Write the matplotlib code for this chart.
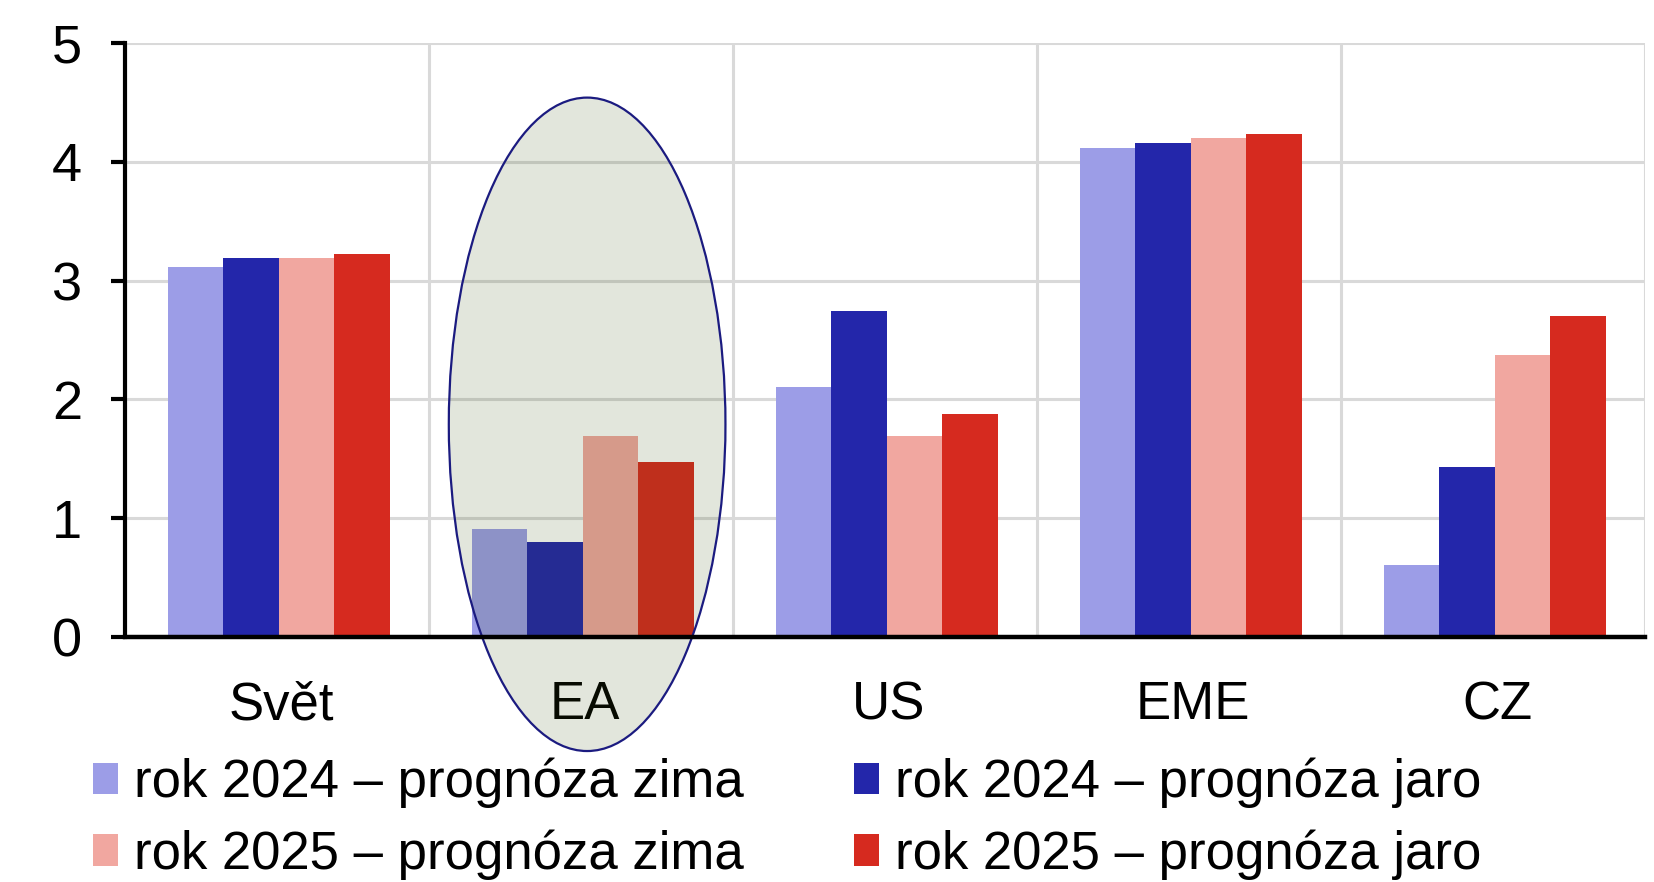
import numpy as np
import matplotlib
matplotlib.use("Agg")
import matplotlib.pyplot as plt
import matplotlib.transforms as mtransforms
from matplotlib.patches import Ellipse, Patch

plt.rcParams["font.family"] = ["Liberation Sans", "DejaVu Sans"]

kategorie = ["Svět", "EA", "US", "EME", "CZ"]
zima_2024 = [3.11, 0.91, 2.10, 4.12, 0.61]
jaro_2024 = [3.19, 0.80, 2.74, 4.16, 1.43]
zima_2025 = [3.19, 1.69, 1.69, 4.20, 2.37]
jaro_2025 = [3.22, 1.47, 1.88, 4.23, 2.70]

serie = [zima_2024, jaro_2024, zima_2025, jaro_2025]
popisky = ["rok 2024 – prognóza zima", "rok 2024 – prognóza jaro",
           "rok 2025 – prognóza zima", "rok 2025 – prognóza jaro"]
barvy = ["#9C9DE7", "#2326AA", "#F1A7A0", "#D62A1F"]

fig = plt.figure(figsize=(16.54, 8.82), dpi=100)
ax = fig.add_axes([0.0756, 0.2778, 0.9190, 0.6735])

x = np.arange(len(kategorie))
w = 0.1826
for i, (hodnoty, barva) in enumerate(zip(serie, barvy)):
    ax.bar(x + (i - 1.5) * w + 0.006, hodnoty, width=w, color=barva, zorder=2)

# zvyraznena eurozona
elipsa = Ellipse((1.02, 1.79), 0.91, 5.5,
                 facecolor=(52/255, 80/255, 10/255, 0.14),
                 edgecolor="#1B1B80", linewidth=1.6,
                 zorder=4, clip_on=False)
ax.add_patch(elipsa)

ax.set_xlim(-0.5, 4.5)
ax.set_ylim(0, 5)
ax.set_yticks(range(6))
ax.set_xticks(x)
ax.set_xticklabels(kategorie)
ax.set_xticks(np.arange(-0.5, 5, 1), minor=True)

ax.grid(axis="y", color="#D9D9D9", linewidth=2.2, zorder=0)
ax.grid(axis="x", which="minor", color="#D9D9D9", linewidth=2.2, zorder=0)
ax.set_axisbelow(True)

for s in ["top", "right"]:
    ax.spines[s].set_visible(False)
ax.spines["left"].set_linewidth(3)
ax.spines["bottom"].set_linewidth(3.2)
ax.spines["bottom"].set_zorder(5)

ax.tick_params(axis="y", length=10, width=3, pad=21, labelsize=39)
ax.tick_params(axis="x", which="both", length=0, pad=31, labelsize=38)
posun = mtransforms.ScaledTranslation(4 / 100, 0, fig.dpi_scale_trans)
for t in ax.get_xticklabels():
    t.set_transform(t.get_transform() + posun)

# legenda po radcich: 2024 nahore, 2025 dole
poradi = [0, 2, 1, 3]
handles = [Patch(facecolor=barvy[i]) for i in poradi]
fig.legend(handles, [popisky[i] for i in poradi], ncol=2, loc="upper left",
           bbox_to_anchor=(0.0562, 0.141), frameon=False, fontsize=38,
           handlelength=0.47, handleheight=0.53, handletextpad=0.3,
           columnspacing=2.1, labelspacing=0.40, borderpad=0, borderaxespad=0)

plt.savefig("out.png", dpi=100)
